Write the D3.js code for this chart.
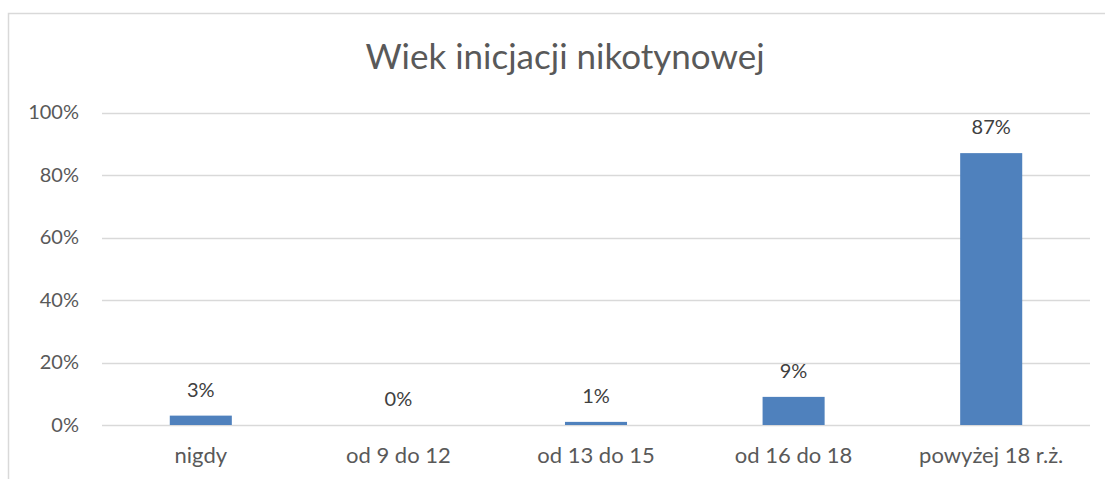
<!DOCTYPE html>
<html lang="pl">
<head>
  <meta charset="UTF-8" />
  <title>Wiek inicjacji nikotynowej</title>
  <script src="https://d3js.org/d3.v7.min.js"></script>
  <style>
    body {
      margin: 0;
      padding: 0;
      background: #fff;
      font-family: Lato, "Open Sans", sans-serif;
    }
    svg { display: block; }
    .tick text { fill: #595959; }
  </style>
</head>
<body>
  <svg id="chart" width="1105" height="479"></svg>
  <script>
    const categories = ["nigdy", "od 9 do 12", "od 13 do 15", "od 16 do 18", "powyżej 18 r.ż."];
    const values = [0.03, 0.00, 0.01, 0.09, 0.87];
    const valueLabels = ["3%", "0%", "1%", "9%", "87%"];
    const yTicks = [0, 0.2, 0.4, 0.6, 0.8, 1.0];

    const svg = d3.select("#chart");
    const W = 1105, H = 479;
    const plot = { left: 102, right: 1090, top: 112.5, bottom: 425 };

    // chart border (top + left only visible)
    svg.append("path")
      .attr("d", `M8.5,${H} V13.5 H${W}`)
      .attr("fill", "none")
      .attr("stroke", "#d9d9d9")
      .attr("stroke-width", 1.5);

    svg.append("text")
      .attr("x", 565)
      .attr("y", 69)
      .attr("text-anchor", "middle")
      .attr("font-size", 35)
      .attr("fill", "#595959")
      .text("Wiek inicjacji nikotynowej");

    const x = d3.scaleBand()
      .domain(categories)
      .range([plot.left, plot.right])
      .paddingInner(0.686)
      .paddingOuter(0.343);

    const y = d3.scaleLinear()
      .domain([0, 1])
      .range([plot.bottom, plot.top]);

    // gridlines
    svg.append("g")
      .selectAll("line")
      .data(yTicks)
      .enter()
      .append("line")
      .attr("x1", plot.left)
      .attr("x2", plot.right)
      .attr("y1", d => Math.round(y(d)) + 0.5)
      .attr("y2", d => Math.round(y(d)) + 0.5)
      .attr("stroke", "#d9d9d9")
      .attr("stroke-width", 1.3);

    // y axis labels
    const yAxis = d3.axisLeft(y)
      .tickValues(yTicks)
      .tickFormat(d3.format(".0%"))
      .tickSize(0)
      .tickPadding(0);
    const gy = svg.append("g")
      .attr("transform", "translate(79,0)")
      .call(yAxis);
    gy.select(".domain").remove();
    gy.selectAll("text").attr("font-size", 20).attr("font-family", "Lato, 'Open Sans', sans-serif");

    // bars
    svg.append("g")
      .selectAll("rect")
      .data(values)
      .enter()
      .append("rect")
      .attr("x", (d, i) => x(categories[i]))
      .attr("width", x.bandwidth())
      .attr("y", d => y(d))
      .attr("height", d => y(0) - y(d))
      .attr("fill", "#4f81bd");

    // value labels
    svg.append("g")
      .selectAll("text")
      .data(values)
      .enter()
      .append("text")
      .attr("x", (d, i) => x(categories[i]) + x.bandwidth() / 2)
      .attr("y", d => y(d) - 19)
      .attr("text-anchor", "middle")
      .attr("font-size", 20)
      .attr("fill", "#404040")
      .text((d, i) => valueLabels[i]);

    // x axis labels
    const xAxis = d3.axisBottom(x).tickSize(0).tickPadding(0);
    const gx = svg.append("g")
      .attr("transform", "translate(0,463)")
      .call(xAxis);
    gx.select(".domain").remove();
    gx.selectAll("text")
      .attr("dy", 0)
      .attr("font-size", 22)
      .attr("font-family", "Lato, 'Open Sans', sans-serif");
  </script>
</body>
</html>
